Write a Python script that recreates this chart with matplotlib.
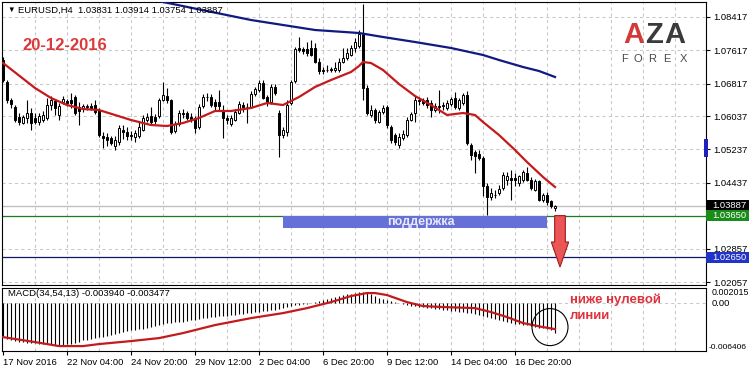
import matplotlib
matplotlib.use("Agg")
import numpy as np
import matplotlib.pyplot as plt
from matplotlib.patches import Rectangle, Polygon, Ellipse
from matplotlib.transforms import blended_transform_factory

plt.rcParams["font.family"] = ["Liberation Sans", "DejaVu Sans"]

# -------------------------------------------------
# EURUSD H4 candles
# -------------------------------------------------

opens = [
    1.0738, 1.0686, 1.0642, 1.0626, 1.0602, 1.0587, 1.0599, 1.0611, 1.0599, 1.0590,
    1.0594, 1.0599, 1.0630, 1.0640, 1.0606, 1.0638, 1.0640, 1.0642, 1.0650, 1.0626,
    1.0623, 1.0626, 1.0628, 1.0630, 1.0618, 1.0556, 1.0554, 1.0551, 1.0532, 1.0542,
    1.0570, 1.0566, 1.0558, 1.0554, 1.0556, 1.0570, 1.0594, 1.0604, 1.0602, 1.0604,
    1.0642, 1.0652, 1.0642, 1.0568, 1.0585, 1.0611, 1.0611, 1.0602, 1.0599, 1.0578,
    1.0628, 1.0650, 1.0650, 1.0638, 1.0638, 1.0618, 1.0599, 1.0585, 1.0594, 1.0611,
    1.0630, 1.0626, 1.0626, 1.0657, 1.0666, 1.0683, 1.0650, 1.0638, 1.0674, 1.0611,
    1.0558, 1.0566, 1.0635, 1.0688, 1.0767, 1.0765, 1.0765, 1.0767, 1.0767, 1.0734,
    1.0714, 1.0714, 1.0717, 1.0714, 1.0714, 1.0734, 1.0743, 1.0750, 1.0767, 1.0772,
    1.0801, 1.0671, 1.0606, 1.0618, 1.0590, 1.0614, 1.0626, 1.0578, 1.0558, 1.0534,
    1.0551, 1.0558, 1.0594, 1.0611, 1.0642, 1.0642, 1.0642, 1.0635, 1.0618, 1.0628,
    1.0628, 1.0623, 1.0633, 1.0647, 1.0623, 1.0635, 1.0654, 1.0534, 1.0518, 1.0513,
    1.0503, 1.0436, 1.0410, 1.0414, 1.0419, 1.0431, 1.0450, 1.0455, 1.0455, 1.0443,
    1.0450, 1.0467, 1.0450, 1.0426, 1.0448, 1.0402, 1.0414, 1.0400, 1.03831,
]
highs = [
    1.0746, 1.0690, 1.0647, 1.0630, 1.0611, 1.0606, 1.0642, 1.0623, 1.0611, 1.0611,
    1.0616, 1.0647, 1.0652, 1.0642, 1.0635, 1.0652, 1.0645, 1.0659, 1.0654, 1.0638,
    1.0633, 1.0633, 1.0635, 1.0642, 1.0623, 1.0566, 1.0563, 1.0556, 1.0556, 1.0582,
    1.0582, 1.0578, 1.0568, 1.0570, 1.0590, 1.0606, 1.0611, 1.0626, 1.0609, 1.0647,
    1.0686, 1.0671, 1.0645, 1.0592, 1.0618, 1.0621, 1.0616, 1.0611, 1.0604, 1.0633,
    1.0657, 1.0659, 1.0657, 1.0645, 1.0666, 1.0630, 1.0606, 1.0606, 1.0621, 1.0640,
    1.0638, 1.0635, 1.0664, 1.0674, 1.0690, 1.0690, 1.0654, 1.0681, 1.0681, 1.0618,
    1.0578, 1.0642, 1.0690, 1.0770, 1.0794, 1.0770, 1.0782, 1.0786, 1.0779, 1.0743,
    1.0722, 1.0726, 1.0722, 1.0734, 1.0743, 1.0767, 1.0767, 1.0774, 1.0791, 1.0810,
    1.0873, 1.0678, 1.0630, 1.0623, 1.0618, 1.0630, 1.0630, 1.0582, 1.0563, 1.0563,
    1.0570, 1.0602, 1.0614, 1.0652, 1.0650, 1.0647, 1.0650, 1.0642, 1.0635, 1.0666,
    1.0638, 1.0642, 1.0650, 1.0662, 1.0647, 1.0659, 1.0664, 1.0539, 1.0522, 1.0522,
    1.0508, 1.0443, 1.0431, 1.0426, 1.0438, 1.0470, 1.0470, 1.0474, 1.0467, 1.0462,
    1.0474, 1.0482, 1.0458, 1.0453, 1.0450, 1.0419, 1.0422, 1.0402, 1.03914,
]
lows = [
    1.0686, 1.0635, 1.0623, 1.0590, 1.0582, 1.0585, 1.0587, 1.0570, 1.0585, 1.0582,
    1.0590, 1.0594, 1.0618, 1.0606, 1.0594, 1.0633, 1.0628, 1.0623, 1.0606, 1.0582,
    1.0614, 1.0618, 1.0618, 1.0609, 1.0554, 1.0527, 1.0532, 1.0534, 1.0522, 1.0534,
    1.0549, 1.0546, 1.0546, 1.0542, 1.0551, 1.0568, 1.0590, 1.0585, 1.0585, 1.0599,
    1.0640, 1.0635, 1.0561, 1.0563, 1.0580, 1.0599, 1.0594, 1.0590, 1.0563, 1.0573,
    1.0623, 1.0640, 1.0626, 1.0618, 1.0618, 1.0551, 1.0585, 1.0580, 1.0592, 1.0609,
    1.0614, 1.0587, 1.0623, 1.0652, 1.0662, 1.0645, 1.0628, 1.0633, 1.0654, 1.0506,
    1.0551, 1.0556, 1.0630, 1.0683, 1.0758, 1.0753, 1.0748, 1.0748, 1.0731, 1.0705,
    1.0705, 1.0710, 1.0710, 1.0710, 1.0710, 1.0731, 1.0738, 1.0748, 1.0758, 1.0767,
    1.0642, 1.0606, 1.0602, 1.0587, 1.0587, 1.0609, 1.0575, 1.0539, 1.0534, 1.0527,
    1.0546, 1.0554, 1.0592, 1.0590, 1.0630, 1.0630, 1.0623, 1.0602, 1.0614, 1.0611,
    1.0618, 1.0618, 1.0628, 1.0621, 1.0618, 1.0630, 1.0534, 1.0498, 1.0467, 1.0498,
    1.0412, 1.0367, 1.0402, 1.0407, 1.0414, 1.0426, 1.0438, 1.0402, 1.0436, 1.0436,
    1.0446, 1.0448, 1.0426, 1.0424, 1.0400, 1.0398, 1.0391, 1.0383, 1.03754,
]
closes = [
    1.0690, 1.0642, 1.0633, 1.0594, 1.0590, 1.0602, 1.0611, 1.0587, 1.0590, 1.0604,
    1.0606, 1.0630, 1.0642, 1.0623, 1.0628, 1.0645, 1.0635, 1.0635, 1.0611, 1.0616,
    1.0628, 1.0628, 1.0623, 1.0614, 1.0558, 1.0551, 1.0546, 1.0539, 1.0546, 1.0575,
    1.0566, 1.0556, 1.0556, 1.0563, 1.0578, 1.0599, 1.0602, 1.0590, 1.0592, 1.0642,
    1.0654, 1.0642, 1.0566, 1.0585, 1.0611, 1.0609, 1.0599, 1.0597, 1.0575, 1.0626,
    1.0650, 1.0649, 1.0630, 1.0628, 1.0628, 1.0599, 1.0594, 1.0599, 1.0614, 1.0633,
    1.0626, 1.0625, 1.0657, 1.0669, 1.0683, 1.0647, 1.0635, 1.0674, 1.0659, 1.0558,
    1.0570, 1.0630, 1.0686, 1.0765, 1.0763, 1.0760, 1.0755, 1.0750, 1.0734, 1.0712,
    1.0712, 1.0715, 1.0714, 1.0719, 1.0734, 1.0743, 1.0755, 1.0767, 1.0782, 1.0801,
    1.0671, 1.0611, 1.0618, 1.0594, 1.0614, 1.0623, 1.0582, 1.0546, 1.0542, 1.0554,
    1.0561, 1.0594, 1.0609, 1.0642, 1.0640, 1.0635, 1.0630, 1.0618, 1.0628, 1.0626,
    1.0630, 1.0635, 1.0645, 1.0626, 1.0642, 1.0654, 1.0539, 1.0510, 1.0508, 1.0503,
    1.0436, 1.0410, 1.0419, 1.0415, 1.0429, 1.0462, 1.0460, 1.0450, 1.0450, 1.0460,
    1.0470, 1.0450, 1.0431, 1.0448, 1.0402, 1.0414, 1.0398, 1.0388, 1.03887,
]

# moving averages (bar index -> value)
ma_red_idx = [0, 8, 12, 16, 20, 24, 28, 32, 37, 41, 45, 49, 53, 57, 62, 66, 70, 74, 78,
              82, 87, 89, 90, 92, 95, 99, 103, 107, 111, 115, 118, 120, 124, 128, 131, 135, 138]
ma_red = [1.07313, 1.06713, 1.06473, 1.06305, 1.06209, 1.06185, 1.06065, 1.05945, 1.05825,
          1.05801, 1.05873, 1.05993, 1.06161, 1.06161, 1.06233, 1.06353, 1.06305, 1.06497,
          1.06737, 1.06905, 1.07097, 1.07241, 1.07337, 1.07313, 1.07145, 1.06809, 1.06521,
          1.06305, 1.06065, 1.06113, 1.06065, 1.05897, 1.05585, 1.05225, 1.04937, 1.04577, 1.04337]

ma_blue_idx = [30, 40, 51, 62, 70, 78, 89, 95, 103, 112, 120, 124, 130, 134, 138]
ma_blue = [1.08993, 1.08777, 1.08561, 1.08345, 1.08225, 1.08105, 1.08033, 1.07937,
           1.07817, 1.07673, 1.07505, 1.07385, 1.07217, 1.07121, 1.06977]

# MACD(34,54,13)
macd = [
    -0.00455, -0.00481, -0.00495, -0.00508, -0.00521, -0.00521, -0.00535, -0.00535, -0.00535, -0.00548,
    -0.00548, -0.00548, -0.00562, -0.00562, -0.00562, -0.00562, -0.00548, -0.00548, -0.00535, -0.00521,
    -0.00495, -0.00495, -0.00481, -0.00468, -0.00455, -0.00455, -0.00441, -0.00428, -0.00414, -0.00401,
    -0.00388, -0.00374, -0.00361, -0.00361, -0.00348, -0.00348, -0.00334, -0.00321, -0.00308, -0.00294,
    -0.00281, -0.00267, -0.00267, -0.00254, -0.00254, -0.00254, -0.00241, -0.00227, -0.00227, -0.00214,
    -0.00201, -0.00201, -0.00187, -0.00187, -0.00174, -0.00174, -0.00174, -0.00160, -0.00160, -0.00147,
    -0.00147, -0.00134, -0.00134, -0.00120, -0.00120, -0.00107, -0.00107, -0.00094, -0.00094, -0.00080,
    -0.00067, -0.00053, -0.00040, -0.00027, -0.00027, -0.00013, -0.00013, 0.00002, 0.00013, 0.00027,
    0.00040, 0.00053, 0.00067, 0.00080, 0.00094, 0.00107, 0.00120, 0.00120, 0.00134, 0.00147,
    0.00147, 0.00134, 0.00120, 0.00094, 0.00067, 0.00053, 0.00040, 0.00027, 0.00013, -0.00002,
    -0.00013, -0.00027, -0.00040, -0.00040, -0.00053, -0.00053, -0.00067, -0.00067, -0.00080, -0.00080,
    -0.00094, -0.00094, -0.00107, -0.00107, -0.00120, -0.00120, -0.00134, -0.00134, -0.00147, -0.00160,
    -0.00174, -0.00187, -0.00201, -0.00214, -0.00227, -0.00241, -0.00254, -0.00267, -0.00281, -0.00281,
    -0.00294, -0.00294, -0.00308, -0.00321, -0.00334, -0.00334, -0.00348, -0.00361, -0.003940,
]
signal_idx = [0, 8, 14, 20, 24, 32, 39, 45, 53, 62, 70, 76, 82, 87, 91, 93, 96, 101,
              105, 110, 118, 122, 126, 130, 135, 138]
signal = [-0.00455, -0.00521, -0.00575, -0.00575, -0.00548, -0.00508, -0.00468, -0.00401,
          -0.00294, -0.00201, -0.00134, -0.00067, 0.00013, 0.00094, 0.00134, 0.00134, 0.00107,
          0.00013, -0.00040, -0.00053, -0.00067, -0.00120, -0.00187, -0.00267, -0.00321, -0.003477]

price_ticks = [1.08417, 1.07617, 1.06817, 1.06037, 1.05237, 1.04437, 1.03637, 1.02857, 1.02057]
time_idx = [0, 16, 32, 48, 64, 80, 96, 112, 128]
time_labels = ["17 Nov 2016", "22 Nov 04:00", "24 Nov 20:00", "29 Nov 12:00", "2 Dec 04:00",
               "6 Dec 20:00", "9 Dec 12:00", "14 Dec 04:00", "16 Dec 20:00"]

support = 1.03650
target = 1.02650
zone_start, zone_end, zone_low = 70, 136, 1.03353

# -------------------------------------------------
# Figure layout (pixel based, like the terminal)
# -------------------------------------------------

W, H = 749, 372
fig = plt.figure(figsize=(W / 100, H / 100), dpi=100)


def box(x0, y0, x1, y1):
    return [x0 / W, 1 - y1 / H, (x1 - x0) / W, (y1 - y0) / H]


ax = fig.add_axes(box(2, 2, 706, 285))
axm = fig.add_axes(box(2, 288, 706, 351))

grid_kw = dict(color="#c8c8c8", lw=0.75, ls=(0, (3, 3)), zorder=0)
fs = 6.8

# -------------------------------------------------
# Price pane
# -------------------------------------------------

o = np.array(opens)
c = np.array(closes)
xs = np.arange(len(c))

for v in price_ticks:
    ax.axhline(v, **grid_kw)
for k in range(8, 176, 8):
    ax.axvline(k, **grid_kw)
    axm.axvline(k, **grid_kw)

ax.axhline(closes[-1], color="#c0c0c0", lw=1, zorder=1)
ax.axhline(support, color="#1f7a1f", lw=0.9, zorder=1)
ax.axhline(target, color="#14146e", lw=0.9, zorder=1)

ax.vlines(xs, lows, highs, color="black", lw=0.8, zorder=3)
ax.bar(xs, np.maximum(np.abs(c - o), 1e-6), bottom=np.minimum(o, c), width=0.6,
       color=np.where(c >= o, "white", "black"), edgecolor="black", lw=0.7, zorder=4)

ax.plot(ma_red_idx, ma_red, color="#c41a1c", lw=1.6, zorder=5)
ax.plot(ma_blue_idx, ma_blue, color="#101a80", lw=1.6, zorder=5)

# support zone and arrow
ax.add_patch(Rectangle((zone_start, zone_low), zone_end - zone_start, support - zone_low,
                       fc="#6670d6", ec="none", zorder=6))
ax.text((zone_start + zone_end) / 2 + 1.5, (support + zone_low) / 2, "поддержка",
        ha="center", va="center", color="#e8eaf8", fontsize=9, fontweight="bold", zorder=7)

cx = len(c) + 0.25
head = 1.03017
tip = 1.02417
ax.add_patch(Polygon([(cx - 1.33, support), (cx + 1.33, support), (cx + 1.33, head),
                      (cx + 2.17, head), (cx, tip), (cx - 2.17, head), (cx - 1.33, head)],
                     closed=True, fc="#eb5555", ec="#9b1c1c", lw=0.8, zorder=7))

ax.set_xlim(-0.25, 175.75)
ax.set_ylim(1.01985, 1.08777)
ax.set_xticks([])
ax.yaxis.tick_right()
ax.set_yticks(price_ticks)
# 1.03637 sits under the support label, so it stays unlabelled
ax.set_yticklabels(["" if v == 1.03637 else f"{v:.5f}" for v in price_ticks], fontsize=fs)
ax.tick_params(axis="y", length=3, width=0.8, pad=2)

# coloured price labels on the scale
bt = blended_transform_factory(ax.transAxes, ax.transData)
for val, bg in [(closes[-1], "black"), (support, "#1a8c1a"), (target, "#2233c8")]:
    ax.add_patch(Rectangle((1.0, val - 0.00132), 43 / 704, 0.00264, transform=bt,
                           fc=bg, ec="none", clip_on=False, zorder=8))
    ax.text(1.0 + 6 / 704, val, f"{val:.5f}", transform=bt, color="white", fontsize=fs,
            va="center", ha="left", clip_on=False, zorder=9)
ax.add_patch(Rectangle((1.0 - 2 / 704, 1.05057), 4 / 704, 0.00432, transform=bt,
                       fc="#2020c0", ec="none", clip_on=False, zorder=8))

for s in ax.spines.values():
    s.set_linewidth(0.8)

# -------------------------------------------------
# MACD pane
# -------------------------------------------------

axm.axhline(0, **grid_kw)
axm.vlines(xs, 0, macd, color="black", lw=0.8, zorder=3)
axm.plot(signal_idx, signal, color="#c41a1c", lw=1.6, zorder=4)
axm.add_patch(Ellipse((136.75, -0.00321), 9, 0.00495, fc="none", ec="black", lw=0.8, zorder=5))

axm.set_xlim(-0.25, 175.75)
axm.set_ylim(-0.006406, 0.002015)
axm.set_yticks([])
axm.set_xticks(time_idx)
axm.set_xticklabels(time_labels, ha="left", fontsize=fs)
axm.tick_params(axis="x", length=3, width=0.8, pad=2)
for s in axm.spines.values():
    s.set_linewidth(0.8)

bm = blended_transform_factory(axm.transAxes, axm.transData)
axm.text(1 + 6 / 704, 1.0, "0.002015", transform=axm.transAxes, fontsize=6.4, va="top", clip_on=False)
axm.text(1 + 6 / 704, 0.0, "0.00", transform=bm, fontsize=fs, va="center", clip_on=False)
axm.text(1 + 3 / 704, 0.0, "-0.006406", transform=axm.transAxes, fontsize=6.0, va="bottom", clip_on=False)

# -------------------------------------------------
# Texts
# -------------------------------------------------

fig.text(7 / W, 1 - 10 / H, "▼", fontsize=5.5, va="center")
fig.text(18 / W, 1 - 10 / H,
         f"EURUSD,H4  {opens[-1]:.5f} {highs[-1]:.5f} {lows[-1]:.5f} {closes[-1]:.5f}",
         fontsize=fs, va="center")
fig.text(22 / W, 1 - 45 / H, "20-12-2016", color="#dc3a3a", fontsize=12,
         fontweight="bold", va="center")
fig.text(8 / W, 1 - 294 / H, f"MACD(34,54,13) {macd[-1]:.6f} {signal[-1]:.6f}",
         fontsize=fs, va="center")
fig.text(570 / W, 1 - 300 / H, "ниже нулевой", color="#e0323c", fontsize=9.5,
         fontweight="bold", va="center")
fig.text(570 / W, 1 - 316 / H, "линии", color="#e0323c", fontsize=9.5,
         fontweight="bold", va="center")

# logo
for ch, px, col in [("A", 634, "#d23a3a"), ("Z", 654, "#3a3a3a"), ("A", 675, "#3a3a3a")]:
    fig.text(px / W, 1 - 35 / H, ch, color=col, fontsize=21, fontweight="bold",
             ha="center", va="center")
for ch, px in zip("FOREX", [624, 638, 652, 667, 683]):
    fig.text(px / W, 1 - 59 / H, ch, color="#4a4a4a", fontsize=8, ha="center", va="center")

fig.savefig("out.png", dpi=100)
